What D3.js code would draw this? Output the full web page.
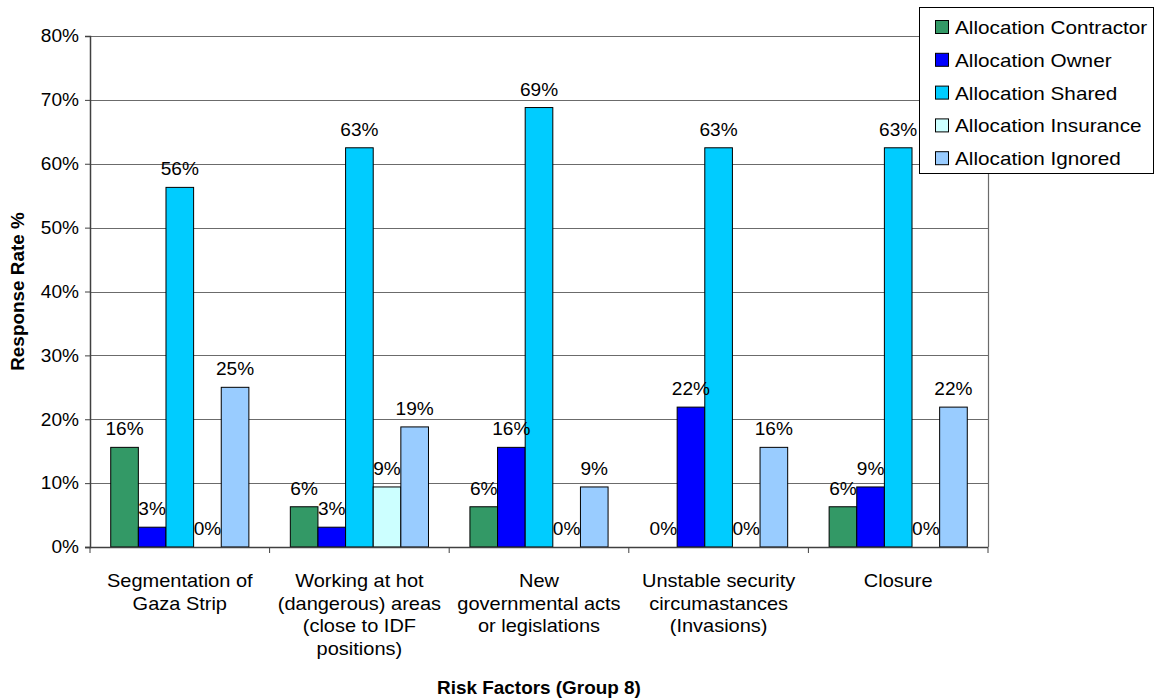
<!DOCTYPE html>
<html>
<head>
<meta charset="utf-8">
<script src="https://cdn.jsdelivr.net/npm/d3@7"></script>
<style>
  body { margin: 0; background: #fff; }
  text { font-family: 'Liberation Sans', Arial, sans-serif; fill: #000; }
</style>
</head>
<body>
<div id="chart"></div>
<script>
'use strict';

// categories (x axis), one label line per entry
const categories = [
  ['Segmentation of', 'Gaza Strip'],
  ['Working at hot', '(dangerous) areas', '(close to IDF', 'positions)'],
  ['New', 'governmental acts', 'or legislations'],
  ['Unstable security', 'circumastances', '(Invasions)'],
  ['Closure']
];

// series values, response rate in %
const contractor = [15.6, 6.3, 6.3, 0, 6.3];
const owner      = [3.1, 3.1, 15.6, 21.9, 9.4];
const shared     = [56.3, 62.5, 68.8, 62.5, 62.5];
const insurance  = [0, 9.4, 0, 0, 0];
const ignored    = [25, 18.8, 9.4, 15.6, 21.9];

const seriesNames = ['Allocation Contractor', 'Allocation Owner', 'Allocation Shared',
  'Allocation Insurance', 'Allocation Ignored'];
const seriesColors = ['#339966', '#0000ff', '#00ccff', '#ccffff', '#99ccff'];

const yTicks = [0, 10, 20, 30, 40, 50, 60, 70, 80];

const W = 1155, H = 698;
const plot = { left: 90, right: 988, top: 36, bottom: 547 };

window.onload = function () {
  drawChart();
};

// widen text a bit, the source chart has a horizontally stretched font
function stretch(sel, k) {
  sel.each(function () {
    const w = this.getComputedTextLength();
    d3.select(this).attr('textLength', w * k).attr('lengthAdjust', 'spacingAndGlyphs');
  });
}

function drawChart() {
  const svg = d3.select('#chart').append('svg')
    .attr('width', W)
    .attr('height', H);

  svg.append('rect').attr('width', W).attr('height', H).attr('fill', '#fff');

  const keys = categories.map(function (c, i) { return 'c' + i; });
  const series = [contractor, owner, shared, insurance, ignored];

  const x0 = d3.scaleBand()
    .domain(keys)
    .range([plot.left, plot.right])
    .paddingInner(0)
    .paddingOuter(0);

  const x1 = d3.scaleBand()
    .domain(seriesNames)
    .range([0, x0.bandwidth()])
    .paddingInner(0)
    .paddingOuter(0.75);

  const y = d3.scaleLinear()
    .domain([0, 80])
    .range([plot.bottom, plot.top]);

  // gridlines
  svg.append('g')
    .attr('class', 'grid')
    .selectAll('line')
    .data(yTicks.filter(function (d) { return d > 0; }))
    .enter().append('line')
      .attr('x1', plot.left)
      .attr('x2', plot.right)
      .attr('y1', function (d) { return Math.round(y(d)) + 0.5; })
      .attr('y2', function (d) { return Math.round(y(d)) + 0.5; })
      .attr('stroke', '#6b6b6b')
      .attr('stroke-width', 1.2);

  // right border of plot area
  svg.append('line')
    .attr('x1', plot.right + 0.5).attr('x2', plot.right + 0.5)
    .attr('y1', plot.top).attr('y2', plot.bottom)
    .attr('stroke', '#6b6b6b')
    .attr('stroke-width', 1.2);

  // bars
  const groups = svg.append('g').selectAll('g')
    .data(keys)
    .enter().append('g')
      .attr('transform', function (d) { return 'translate(' + x0(d) + ',0)'; });

  groups.selectAll('rect')
    .data(function (d, i) {
      return series.map(function (s, j) { return { name: seriesNames[j], color: seriesColors[j], v: s[i] }; });
    })
    .enter().filter(function (d) { return d.v > 0; }).append('rect')
      .attr('x', function (d) { return x1(d.name); })
      .attr('y', function (d) { return y(d.v); })
      .attr('width', x1.bandwidth())
      .attr('height', function (d) { return y(0) - y(d.v); })
      .attr('fill', function (d) { return d.color; })
      .attr('stroke', '#000')
      .attr('stroke-width', 1);

  // data labels
  const labels = groups.selectAll('text')
    .data(function (d, i) {
      return series.map(function (s, j) { return { name: seriesNames[j], v: s[i] }; });
    })
    .enter().append('text')
      .attr('x', function (d) { return x1(d.name) + x1.bandwidth() / 2; })
      .attr('y', function (d) { return y(d.v) - 12; })
      .attr('text-anchor', 'middle')
      .style('font-size', '18px')
      .text(function (d) { return Math.round(d.v) + '%'; });
  stretch(labels, 1.06);

  // y axis
  const yAxis = svg.append('g')
    .attr('transform', 'translate(' + plot.left + ',0)')
    .call(d3.axisLeft(y)
      .tickValues(yTicks)
      .tickFormat(function (d) { return d + '%'; })
      .tickSize(5)
      .tickPadding(6));
  yAxis.select('.domain').attr('stroke', '#404040').attr('stroke-width', 1.5);
  yAxis.selectAll('.tick line').attr('stroke', '#404040');
  yAxis.selectAll('.tick text')
    .style('font-size', '18px')
    .style('font-family', "'Liberation Sans', Arial, sans-serif")
    .attr('fill', '#000');
  stretch(yAxis.selectAll('.tick text'), 1.06);

  // x axis
  const xAxis = svg.append('g');
  xAxis.append('line')
    .attr('x1', plot.left - 5).attr('x2', plot.right)
    .attr('y1', plot.bottom + 0.5).attr('y2', plot.bottom + 0.5)
    .attr('stroke', '#404040')
    .attr('stroke-width', 1.5);
  xAxis.selectAll('.xtick')
    .data(keys.concat(['end']))
    .enter().append('line')
      .attr('class', 'xtick')
      .attr('x1', function (d) { return d === 'end' ? plot.right : x0(d); })
      .attr('x2', function (d) { return d === 'end' ? plot.right : x0(d); })
      .attr('y1', plot.bottom)
      .attr('y2', plot.bottom + 6)
      .attr('stroke', '#404040');

  categories.forEach(function (lines, i) {
    const cx = x0(keys[i]) + x0.bandwidth() / 2;
    const t = xAxis.selectAll('.cat' + i)
      .data(lines)
      .enter().append('text')
        .attr('x', cx)
        .attr('y', function (d, k) { return 587 + k * 22.5; })
        .attr('text-anchor', 'middle')
        .style('font-size', '18.5px')
        .text(function (d) { return d; });
    stretch(t, 1.08);
  });

  // axis titles
  const xt = svg.append('text')
    .attr('x', (plot.left + plot.right) / 2)
    .attr('y', 694)
    .attr('text-anchor', 'middle')
    .style('font-size', '17.5px')
    .style('font-weight', 'bold')
    .text('Risk Factors (Group 8)');
  stretch(xt, 1.08);

  const yt = svg.append('text')
    .attr('transform', 'translate(24,' + ((plot.top + plot.bottom) / 2) + ') rotate(-90)')
    .attr('text-anchor', 'middle')
    .style('font-size', '17.5px')
    .style('font-weight', 'bold')
    .text('Response Rate %');
  stretch(yt, 1.08);

  // legend
  const lg = svg.append('g').attr('transform', 'translate(919,7)');
  lg.append('rect')
    .attr('x', 0.5).attr('y', 0.5)
    .attr('width', 234).attr('height', 166)
    .attr('fill', '#fff')
    .attr('stroke', '#000');
  const rows = lg.selectAll('.row')
    .data(seriesNames)
    .enter().append('g')
      .attr('class', 'row')
      .attr('transform', function (d, i) { return 'translate(0,' + (20 + i * 32.8) + ')'; });
  rows.append('rect')
    .attr('x', 16.5).attr('y', -6.5)
    .attr('width', 13).attr('height', 13)
    .attr('fill', function (d, i) { return seriesColors[i]; })
    .attr('stroke', '#000');
  const lt = rows.append('text')
    .attr('x', 36)
    .attr('y', 7)
    .style('font-size', '19px')
    .text(function (d) { return d; });
  stretch(lt, 1.09);
}
</script>
</body>
</html>
